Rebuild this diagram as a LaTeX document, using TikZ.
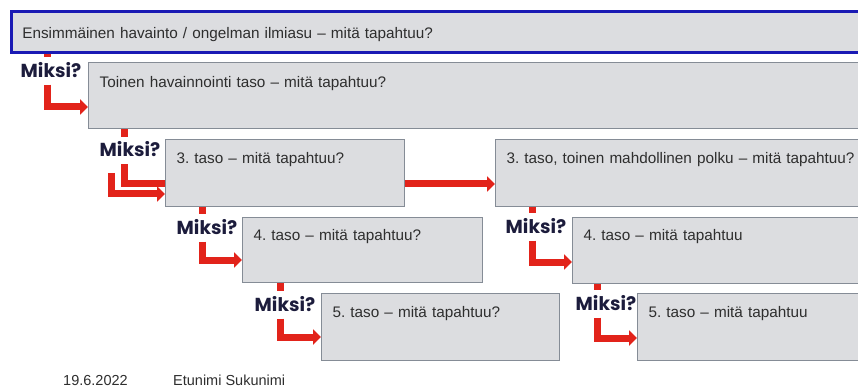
\documentclass[tikz,border=0pt]{standalone}
\usepackage{fontspec}
\setmainfont{Liberation Sans}
\newfontfamily\miksifont{Poppins}
\usepackage{tikz}
\usetikzlibrary{arrows.meta,calc}
\frenchspacing
\definecolor{whyred}{HTML}{E2231A}
\definecolor{navy}{HTML}{1C1C3C}
\definecolor{boxedge}{HTML}{858C96}
\definecolor{topblue}{HTML}{1A1AB4}
\definecolor{boxfill}{HTML}{DCDDE0}
\definecolor{ink}{HTML}{2E2E2E}
\tikzset{
  box/.style={draw=boxedge, fill=boxfill, line width=1.2pt, anchor=north west, align=left,
    inner xsep=11pt, inner ysep=0pt, text height=25pt, text depth=42pt, text=ink,
    font=\fontsize{15.3}{18}\selectfont},
  topbox/.style={box, draw=topblue, line width=2.6pt, text height=27pt, text depth=14pt},
  whylbl/.style={font=\miksifont\bfseries\fontsize{18.8}{20}\selectfont, text=navy,
    inner xsep=0pt, inner ysep=7pt, text height=13pt, text depth=0pt},
  whyline/.style={draw=whyred, line width=7pt},
  whyarr/.style={whyline, -{Triangle[length=8pt,width=15pt]}},
  foot/.style={font=\fontsize{14.5}{16}\selectfont, text=ink, anchor=base west, inner sep=0pt},
}
\begin{document}
\begin{tikzpicture}[x=1pt, y=-1pt]
  \clip (0,0) rectangle (858,387);
  % boxes
  \node[topbox, text width=838pt] (b1) at (10,10) {Ensimmäinen havainto / ongelman ilmiasu – mitä tapahtuu?};
  \node[box, text width=760pt, text depth=41pt] (b2) at (88,62) {Toinen havainnointi taso – mitä tapahtuu?};
  \node[box, text width=217pt, text height=24pt, text depth=43pt] (b3) at (165,139) {3. taso – mitä tapahtuu?};
  \node[box, text width=353pt, text height=24pt, text depth=43pt] (b3b) at (495,139) {3. taso, toinen mahdollinen polku – mitä tapahtuu?};
  \node[box, text width=218pt, text height=23pt, text depth=42pt] (b4) at (242,217) {4. taso – mitä tapahtuu?};
  \node[box, text width=276pt, text height=23pt, text depth=43pt] (b4b) at (572,217) {4. taso – mitä tapahtuu};
  \node[box, text width=216pt, text height=24pt, text depth=43pt] (b5) at (321,293) {5. taso – mitä tapahtuu?};
  \node[box, text width=211pt, text height=24pt, text depth=43pt] (b5b) at (637,293) {5. taso – mitä tapahtuu};
  % why labels
  \node[whylbl] (m1) at (51,71) {Miksi?};
  \node[whylbl] (m2) at (130,150.5) {Miksi?};
  \node[whylbl] (m3) at (207,228) {Miksi?};
  \node[whylbl] (m4) at (285,305) {Miksi?};
  \node[whylbl] (m5) at (536,227) {Miksi?};
  \node[whylbl] (m6) at (606,304) {Miksi?};
  \coordinate (v1) at ($(m1)+(-4,0)$);
  \coordinate (v2) at ($(m2)+(-6,0)$);
  \coordinate (v2b) at (111.5,173);
  \coordinate (v3) at ($(m3)+(-4.5,0)$);
  \coordinate (v4) at ($(m4)+(-5,0)$);
  \coordinate (v5) at ($(m5)+(-4,0)$);
  \coordinate (v6) at ($(m6)+(-9,0)$);
  % connectors
  \draw[whyline] (b1.south -| v1) -- (m1.north -| v1);
  \draw[whyarr] (m1.south -| v1) |- ([yshift=-45pt]b2.north west);
  \draw[whyline] (b2.south -| v2) -- (m2.north -| v2);
  \draw[whyline] (m2.south -| v2) |- ([yshift=-45pt]b3.north west);
  \draw[whyarr] (v2b) |- ([yshift=-55pt]b3.north west);
  \draw[whyarr] ([yshift=-45pt]b3.north east) -- ([yshift=-45pt]b3b.north west);
  \draw[whyline] (b3.south -| v3) -- (m3.north -| v3);
  \draw[whyarr] (m3.south -| v3) |- ([yshift=-43pt]b4.north west);
  \draw[whyline] (b4.south -| v4) -- (m4.north -| v4);
  \draw[whyarr] (m4.south -| v4) |- ([yshift=-44pt]b5.north west);
  \draw[whyline] (b3b.south -| v5) -- (m5.north -| v5);
  \draw[whyarr] (m5.south -| v5) |- ([yshift=-45pt]b4b.north west);
  \draw[whyline] (b4b.south -| v6) -- (m6.north -| v6);
  \draw[whyarr] (m6.south -| v6) |- ([yshift=-45pt]b5b.north west);
  % footer
  \node[foot] (date) at (63,385) {19.6.2022};
  \node[foot] (name) at (173,385) {Etunimi Sukunimi};
\end{tikzpicture}
\end{document}
